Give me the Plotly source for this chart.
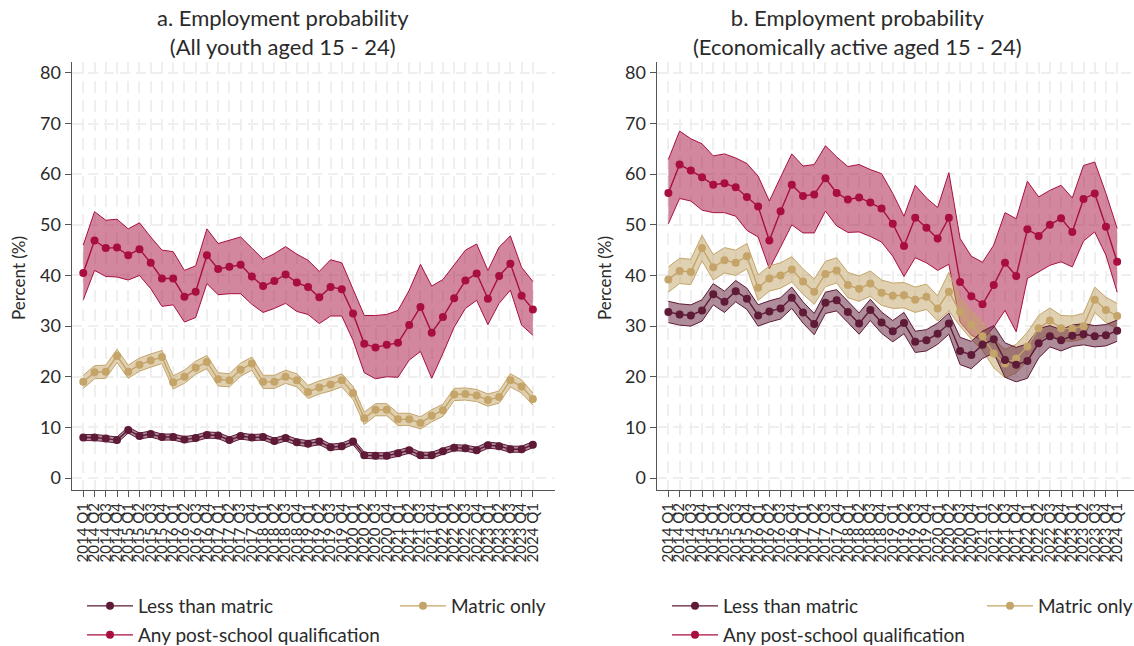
import plotly.graph_objects as go

quarters = [
    "2014 Q1", "2014 Q2", "2014 Q3", "2014 Q4", "2015 Q1", "2015 Q2", "2015 Q3", "2015 Q4",
    "2016 Q1", "2016 Q2", "2016 Q3", "2016 Q4", "2017 Q1", "2017 Q2", "2017 Q3", "2017 Q4",
    "2018 Q1", "2018 Q2", "2018 Q3", "2018 Q4", "2019 Q1", "2019 Q2", "2019 Q3", "2019 Q4",
    "2020 Q1", "2020 Q2", "2020 Q3", "2020 Q4", "2021 Q1", "2021 Q2", "2021 Q3", "2021 Q4",
    "2022 Q1", "2022 Q2", "2022 Q3", "2022 Q4", "2023 Q1", "2023 Q2", "2023 Q3", "2023 Q4",
    "2024 Q1",
]
y_ticks = [0, 10, 20, 30, 40, 50, 60, 70, 80]

# Panel a: all youth aged 15-24 (estimate, lower and upper bound of 95% CI)
a_less = [8.0, 8.0, 7.8, 7.5, 9.5, 8.3, 8.7, 8.1, 8.1, 7.6, 7.9, 8.5, 8.4, 7.5, 8.3, 8.0,
          8.1, 7.3, 7.9, 7.1, 6.8, 7.2, 6.1, 6.3, 7.2, 4.5, 4.4, 4.4, 4.9, 5.5, 4.5, 4.5,
          5.3, 6.0, 5.9, 5.5, 6.5, 6.3, 5.7, 5.7, 6.6]
a_less_lo = [7.4, 7.4, 7.2, 6.9, 8.9, 7.7, 8.1, 7.5, 7.5, 7.0, 7.3, 7.9, 7.8, 6.9, 7.7, 7.4,
             7.5, 6.7, 7.3, 6.5, 6.2, 6.6, 5.5, 5.7, 6.6, 3.9, 3.8, 3.8, 4.3, 4.9, 3.9, 3.9,
             4.7, 5.4, 5.3, 4.9, 5.9, 5.7, 5.1, 5.1, 6.0]
a_less_hi = [8.6, 8.6, 8.4, 8.1, 10.1, 8.9, 9.3, 8.7, 8.7, 8.2, 8.5, 9.1, 9.0, 8.1, 8.9, 8.6,
             8.7, 7.9, 8.5, 7.7, 7.4, 7.8, 6.7, 6.9, 7.8, 5.1, 5.0, 5.0, 5.5, 6.1, 5.1, 5.1,
             5.9, 6.6, 6.5, 6.1, 7.1, 6.9, 6.3, 6.3, 7.2]

a_matric = [19.0, 20.9, 21.0, 24.1, 21.0, 22.4, 23.2, 23.9, 18.9, 20.0, 21.8, 22.9, 19.5, 19.3,
            21.4, 22.6, 19.0, 19.0, 20.0, 19.3, 17.0, 17.9, 18.5, 19.3, 16.8, 11.8, 13.5, 13.5,
            11.6, 11.6, 10.9, 12.3, 13.4, 16.5, 16.6, 16.3, 15.4, 16.0, 19.3, 18.1, 15.6]
a_matric_lo = [17.7, 19.6, 19.7, 22.8, 19.7, 21.1, 21.9, 22.6, 17.6, 18.7, 20.5, 21.6, 18.2, 18.0,
               20.1, 21.3, 17.7, 17.7, 18.7, 18.0, 15.7, 16.6, 17.2, 18.0, 15.5, 10.6, 12.3, 12.3,
               10.4, 10.4, 9.7, 11.1, 12.2, 15.3, 15.4, 15.1, 14.2, 14.8, 18.0, 16.8, 14.4]
a_matric_hi = [20.3, 22.2, 22.3, 25.4, 22.3, 23.7, 24.5, 25.2, 20.2, 21.3, 23.1, 24.2, 20.8, 20.6,
               22.7, 23.9, 20.3, 20.3, 21.3, 20.6, 18.3, 19.2, 19.8, 20.6, 18.1, 13.0, 14.7, 14.7,
               12.8, 12.8, 12.1, 13.5, 14.6, 17.7, 17.8, 17.5, 16.6, 17.2, 20.6, 19.4, 16.8]

a_post = [40.5, 46.9, 45.4, 45.5, 44.0, 45.2, 42.5, 39.4, 39.4, 35.8, 36.8, 44.0, 41.3, 41.7,
          42.1, 39.8, 37.9, 38.9, 40.2, 38.6, 37.7, 35.7, 37.7, 37.3, 32.5, 26.5, 25.8, 26.3,
          26.7, 30.2, 33.8, 28.7, 31.8, 35.5, 39.0, 40.4, 35.4, 39.9, 42.3, 36.0, 33.3]
a_post_lo = [35.2, 41.0, 39.8, 39.7, 39.1, 40.0, 37.4, 33.9, 34.2, 30.8, 31.7, 38.4, 36.2, 36.4,
             36.4, 34.3, 32.7, 33.5, 34.5, 32.9, 32.3, 30.5, 32.0, 32.0, 27.2, 20.8, 19.6, 20.0,
             19.9, 23.3, 25.0, 19.7, 24.6, 29.8, 33.5, 35.1, 30.3, 34.5, 37.1, 30.2, 28.2]
a_post_hi = [46.0, 52.6, 50.9, 51.1, 49.2, 50.4, 47.6, 45.0, 44.7, 41.0, 41.9, 49.2, 46.3, 46.9,
             47.6, 45.4, 43.2, 44.3, 45.7, 44.2, 43.0, 40.8, 43.1, 42.5, 37.3, 32.1, 32.1, 32.3,
             33.1, 37.1, 42.2, 37.9, 39.2, 42.0, 45.0, 46.2, 41.0, 45.6, 47.8, 41.6, 38.8]

# Panel b: economically active youth aged 15-24
b_less = [32.8, 32.3, 32.1, 33.1, 36.3, 34.8, 36.9, 35.4, 32.1, 32.9, 33.5, 35.6, 32.7, 30.4,
          34.6, 35.1, 32.8, 30.5, 33.2, 30.7, 29.0, 30.6, 26.9, 27.2, 28.5, 30.5, 25.1, 24.3,
          26.3, 27.4, 23.3, 22.4, 23.1, 26.6, 28.0, 27.2, 28.1, 28.4, 28.0, 28.2, 29.1]
b_less_lo = [30.7, 30.2, 30.0, 31.0, 34.2, 32.7, 34.8, 33.3, 30.0, 30.8, 31.4, 33.5, 30.6, 28.3,
             32.5, 33.0, 30.7, 28.4, 31.1, 28.6, 26.9, 28.5, 24.8, 25.1, 26.4, 28.4, 22.4, 21.6,
             23.6, 24.7, 19.9, 19.0, 19.7, 23.7, 25.9, 25.1, 26.0, 26.3, 25.9, 26.1, 27.0]
b_less_hi = [34.9, 34.4, 34.2, 35.2, 38.4, 36.9, 39.0, 37.5, 34.2, 35.0, 35.6, 37.7, 34.8, 32.5,
             36.7, 37.2, 34.9, 32.6, 35.3, 32.8, 31.1, 32.7, 29.0, 29.3, 30.6, 32.6, 27.8, 27.0,
             29.0, 30.1, 26.7, 25.8, 26.5, 29.5, 30.1, 29.3, 30.2, 30.5, 30.1, 30.3, 31.2]

b_matric = [39.2, 40.9, 40.7, 45.4, 41.6, 43.0, 42.5, 43.8, 37.6, 39.4, 40.0, 41.2, 38.8, 36.8,
            40.3, 41.0, 38.1, 37.4, 38.4, 36.6, 36.0, 36.1, 35.2, 35.8, 33.5, 36.8, 32.8, 30.2,
            28.0, 24.6, 22.6, 23.6, 26.0, 29.6, 31.1, 29.6, 29.5, 30.0, 35.2, 33.2, 32.0]
b_matric_lo = [36.7, 38.4, 38.2, 42.9, 39.1, 40.5, 40.0, 41.3, 35.1, 36.9, 37.5, 38.7, 36.3, 34.3,
               37.8, 38.5, 35.6, 34.9, 35.9, 34.1, 33.5, 33.6, 32.7, 33.3, 31.0, 33.0, 30.0, 27.4,
               25.2, 21.8, 19.8, 20.8, 23.2, 27.1, 28.6, 27.1, 27.0, 27.5, 32.7, 30.7, 29.5]
b_matric_hi = [41.7, 43.4, 43.2, 47.9, 44.1, 45.5, 45.0, 46.3, 40.1, 41.9, 42.5, 43.7, 41.3, 39.3,
               42.8, 43.5, 40.6, 39.9, 40.9, 39.1, 38.5, 38.6, 37.7, 38.3, 36.0, 40.6, 35.6, 33.0,
               30.8, 27.4, 25.4, 26.4, 28.8, 32.1, 33.6, 32.1, 32.0, 32.5, 37.7, 35.7, 34.5]

b_post = [56.3, 61.9, 60.7, 59.4, 57.9, 58.2, 57.4, 55.5, 53.6, 46.9, 52.7, 57.9, 55.7, 56.0,
          59.2, 56.3, 55.0, 55.4, 54.4, 53.2, 50.2, 45.8, 51.4, 49.4, 47.3, 51.4, 38.7, 35.9,
          34.3, 38.1, 42.5, 39.9, 49.1, 47.8, 50.0, 51.3, 48.6, 55.1, 56.2, 49.6, 42.7]
b_post_lo = [50.2, 55.2, 54.7, 52.9, 52.4, 52.4, 51.7, 48.9, 47.6, 41.3, 45.6, 50.0, 48.4, 48.4,
             52.7, 49.8, 48.5, 48.6, 47.7, 46.6, 43.8, 39.8, 43.5, 42.5, 41.0, 42.2, 30.8, 28.2,
             27.2, 29.8, 33.1, 28.9, 39.4, 40.7, 42.0, 42.7, 41.7, 46.8, 48.6, 44.0, 36.7]
b_post_hi = [62.9, 68.5, 67.0, 66.0, 63.6, 64.0, 63.2, 62.1, 59.6, 54.7, 59.4, 64.0, 61.6, 61.9,
             65.6, 63.4, 61.5, 61.9, 60.9, 60.1, 56.2, 51.7, 57.8, 55.3, 53.4, 60.3, 47.3, 43.8,
             42.6, 46.0, 52.4, 51.2, 58.6, 55.5, 56.8, 57.8, 55.3, 61.7, 62.4, 56.2, 49.3]

series_names = ["Less than matric", "Matric only", "Any post-school qualification"]
line_colors = ["#5e1a36", "#c4a468", "#a80f3f"]
fill_colors = ["rgba(94,26,54,0.5)", "rgba(196,164,104,0.5)", "rgba(168,15,63,0.5)"]

FONT = "Lato"
TEXT = "#2a2a2a"
AXIS = "#555555"
GRID = "#efefef"

W, H = 1134, 646

# legend slots (left edge of entry in px, row centre in px) per panel and series
panels = [
    {"xa": "x", "ya": "y",
     "data": [(a_less, a_less_lo, a_less_hi), (a_matric, a_matric_lo, a_matric_hi),
              (a_post, a_post_lo, a_post_hi)],
     "legends": ["legend", "legend2", "legend3"],
     "slots": [(82, 606), (395, 606), (82, 635)]},
    {"xa": "x2", "ya": "y2",
     "data": [(b_less, b_less_lo, b_less_hi), (b_matric, b_matric_lo, b_matric_hi),
              (b_post, b_post_lo, b_post_hi)],
     "legends": ["legend4", "legend5", "legend6"],
     "slots": [(667, 606), (982, 606), (667, 635)]},
]

fig = go.Figure()

for p in panels:
    # confidence bands, post-school drawn first so the narrower bands sit on top
    for k in [2, 1, 0]:
        est, lo, hi = p["data"][k]
        fig.add_trace(go.Scatter(
            x=quarters, y=lo, mode="lines", line=dict(color=line_colors[k], width=1),
            xaxis=p["xa"], yaxis=p["ya"], showlegend=False, hoverinfo="skip"))
        fig.add_trace(go.Scatter(
            x=quarters, y=hi, mode="lines", line=dict(color=line_colors[k], width=1),
            fill="tonexty", fillcolor=fill_colors[k],
            xaxis=p["xa"], yaxis=p["ya"], showlegend=False, hoverinfo="skip"))
    # point estimates
    for k in [2, 1, 0]:
        est, lo, hi = p["data"][k]
        fig.add_trace(go.Scatter(
            x=quarters, y=est, mode="lines+markers", name=series_names[k],
            line=dict(color=line_colors[k], width=1.4),
            marker=dict(color=line_colors[k], size=8),
            xaxis=p["xa"], yaxis=p["ya"], legend=p["legends"][k]))

xaxis_common = dict(
    type="category", tickmode="array", tickvals=quarters, ticktext=quarters,
    tickangle=-90, ticks="outside", ticklen=6, tickcolor=AXIS, tickwidth=1,
    showline=True, linecolor=AXIS, linewidth=1.2, mirror=False,
    showgrid=True, gridcolor=GRID, gridwidth=1.5, griddash="12px,7px",
    zeroline=False, tickfont=dict(family=FONT, size=15, color=TEXT),
)
yaxis_common = dict(
    range=[-2.35, 82.2], tickmode="array", tickvals=y_ticks,
    ticks="outside", ticklen=6, tickcolor=AXIS, tickwidth=1,
    showline=True, linecolor=AXIS, linewidth=1.2,
    showgrid=True, gridcolor=GRID, gridwidth=1.5, griddash="10px,6px",
    zeroline=False, tickfont=dict(family=FONT, size=18, color=TEXT),
)

y_dom = [(H - 490) / H, (H - 61.7) / H]

fig.update_layout(
    width=W, height=H,
    margin=dict(l=0, r=0, t=0, b=0, autoexpand=False),
    paper_bgcolor="white", plot_bgcolor="white",
    font=dict(family=FONT, color=TEXT),
    xaxis=dict(xaxis_common, domain=[71.7 / W, 555 / W], range=[-1.03, 41.97], anchor="y"),
    yaxis=dict(yaxis_common, domain=y_dom, anchor="x"),
    xaxis2=dict(xaxis_common, domain=[656.7 / W, 1.0], range=[-1.04, 41.5], anchor="y2"),
    yaxis2=dict(yaxis_common, domain=y_dom, anchor="x2"),
    showlegend=True,
)

legend_common = dict(
    orientation="h", xanchor="left", yanchor="middle",
    bgcolor="rgba(0,0,0,0)", font=dict(family=FONT, size=19, color=TEXT),
    itemwidth=46, itemclick=False, itemdoubleclick=False,
)
legend_layout = {}
for p in panels:
    for name, (lx, ly) in zip(p["legends"], p["slots"]):
        legend_layout[name] = dict(legend_common, x=lx / W, y=(H - ly) / H)
fig.update_layout(**legend_layout)

titles = [
    ("a. Employment probability<br>(All youth aged 15 - 24)", 283),
    ("b. Employment probability<br>(Economically active aged 15 - 24)", 857),
]
for text, cx in titles:
    fig.add_annotation(
        text=text, x=cx / W, y=(H - 32) / H, xref="paper", yref="paper",
        xanchor="center", yanchor="middle", showarrow=False, align="center",
        font=dict(family=FONT, size=22, color=TEXT))

for cx in [18, 604]:
    fig.add_annotation(
        text="Percent (%)", x=cx / W, y=(H - 278) / H, xref="paper", yref="paper",
        xanchor="center", yanchor="middle", showarrow=False, textangle=-90,
        font=dict(family=FONT, size=17, color=TEXT))

fig.write_html("out.html")
